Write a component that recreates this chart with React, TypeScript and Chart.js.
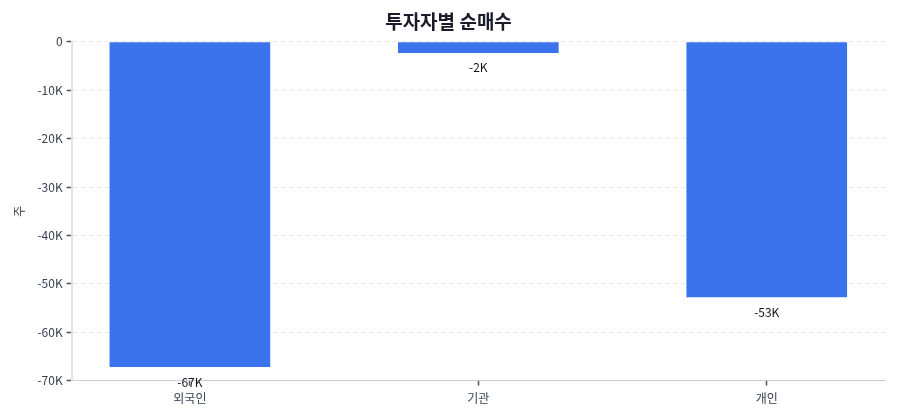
import Chart, { ChartConfiguration, Plugin } from "chart.js/auto"
import { useEffect, useRef } from "react"

const categories = ["외국인", "기관", "개인"]
const netBuy = [-67200, -2300, -52800]
const yTicks = [0, -10000, -20000, -30000, -40000, -50000, -60000, -70000]

const FONT = "'Noto Sans CJK KR', 'Noto Sans', sans-serif"

function formatK(v: number) {
	if (v === 0) return "0"
	return Math.round(v / 1000) + "K"
}

// draws the value under the end of each bar
const valueLabels: Plugin = {
	id: "valueLabels",
	afterDatasetsDraw(chart) {
		const ctx = chart.ctx
		const meta = chart.getDatasetMeta(0)
		ctx.save()
		ctx.font = "12px " + FONT
		ctx.fillStyle = "#111"
		ctx.textAlign = "center"
		ctx.textBaseline = "middle"
		meta.data.forEach((bar, i) => {
			const { x, y } = bar.getProps(["x", "y"], true) as { x: number; y: number }
			ctx.fillText(formatK(netBuy[i]), x, y + 15)
		})
		ctx.restore()
	}
}

const config: ChartConfiguration<"bar"> = {
	type: "bar",
	data: {
		datasets: [
			{
				label: "순매수",
				data: netBuy.map((v, i) => ({ x: i, y: v })),
				backgroundColor: "#3b73ec",
				barPercentage: 0.557,
				categoryPercentage: 1
			}
		]
	},
	plugins: [valueLabels],
	options: {
		animation: false,
		responsive: true,
		maintainAspectRatio: false,
		layout: { padding: { right: 7, top: 0, bottom: 0, left: 4 } },
		plugins: {
			legend: { display: false },
			tooltip: { enabled: false },
			title: {
				display: true,
				text: "투자자별 순매수",
				color: "#1a1d29",
				font: { family: FONT, size: 19, weight: "bold" },
				padding: { top: 2, bottom: 9 }
			}
		},
		scales: {
			x: {
				type: "linear",
				offset: false,
				min: -0.41,
				max: 2.41,
				afterBuildTicks(axis) {
					axis.ticks = categories.map((_, i) => ({ value: i }))
				},
				grid: {
					display: true,
					offset: false,
					drawOnChartArea: false,
					drawTicks: true,
					tickLength: 5,
					tickWidth: 1.5,
					tickColor: "#4b5563"
				},
				border: { display: true, color: "#c9cdd8", width: 1 },
				ticks: {
					color: "#374151",
					font: { family: FONT, size: 12 },
					padding: 6,
					callback(v) {
						return categories[Number(v)] ?? ""
					}
				}
			},
			y: {
				min: -70000,
				max: 0,
				afterBuildTicks(axis) {
					axis.ticks = yTicks.map((v) => ({ value: v }))
				},
				title: {
					display: true,
					text: "주",
					color: "#374151",
					font: { family: FONT, size: 12 },
					padding: { top: 0, bottom: 7 }
				},
				grid: {
					color: "#e5e7eb",
					tickColor: "#4b5563",
					tickLength: 5,
					tickWidth: 1.5,
					tickBorderDash: [0, 0]
				},
				border: { display: true, color: "#e0e3e8", width: 2, dash: [4, 4] },
				ticks: {
					color: "#374151",
					font: { family: FONT, size: 12 },
					padding: 4,
					callback(v) {
						return formatK(Number(v))
					}
				}
			}
		}
	}
}

// border.dash applies to the grid lines; the axis line itself is solid
export default function App() {
	const canvasRef = useRef<HTMLCanvasElement>(null)

	useEffect(() => {
		const ctx = canvasRef.current?.getContext("2d") as CanvasRenderingContext2D
		const chart = new Chart(ctx, config)
		return () => {
			chart.destroy()
		}
	}, [])

	return (
		<div style={{ height: "404px", width: "100%" }}>
			<canvas ref={canvasRef}></canvas>
		</div>
	)
}
